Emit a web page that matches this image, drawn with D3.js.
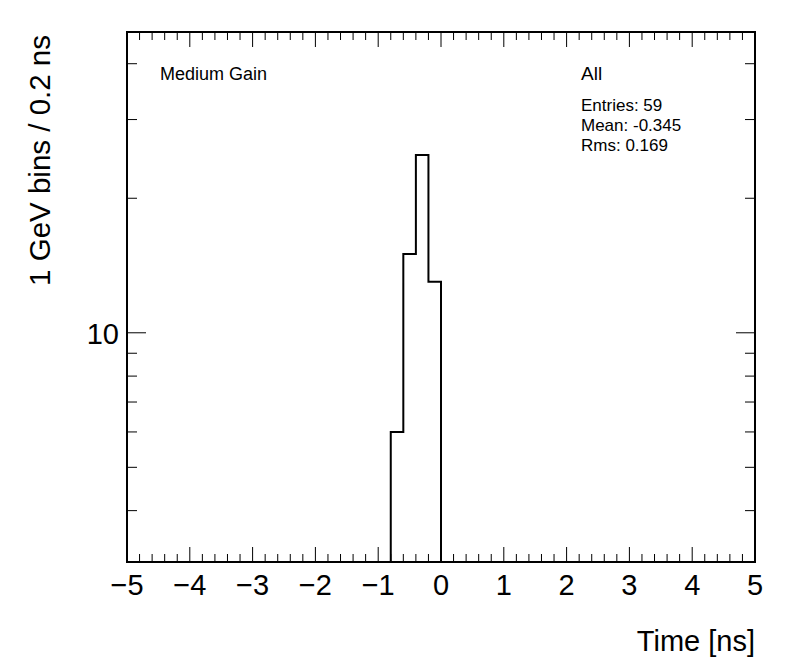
<!DOCTYPE html>
<html>
<head>
<meta charset="utf-8">
<script src="https://cdn.jsdelivr.net/npm/d3@7"></script>
<style>
  body { margin: 0; background: #fff; }
  svg { font-family: "Liberation Sans", Arial, Helvetica, sans-serif; }
</style>
</head>
<body>
<svg width="796" height="672"></svg>
<script>
// histogram bins (lower edge, ns) and counts
var binLow = [-0.8, -0.6, -0.4, -0.2]
var counts = [6, 15, 25, 13]
var binWidth = 0.2

// axis ranges and tick labels
var xDomain = [-5, 5]
var yDomain = [3.07, 47.1]
var xMajor = [-5, -4, -3, -2, -1, 0, 1, 2, 3, 4, 5]
var yLabels = [10]

var statLines = ["Entries: 59", "Mean: -0.345", "Rms: 0.169"]

// frame edges ("top" is taken by window.top, so other names)
var svg = d3.select("svg"),
    padL = 127, padR = 755, padT = 32, padB = 562

var x = d3.scaleLinear().domain(xDomain).range([padL, padR])
var y = d3.scaleLog().domain(yDomain).range([padB, padT])

var fmtNum = function(v) { return v < 0 ? "\u2212" + Math.abs(v) : "" + v }

// ticks on x (bottom and top), pointing inward
var xMinor = d3.range(-50, 51, 2).map(function(d) { return d / 10 })
var tickG = svg.append("g").attr("stroke", "#000").attr("stroke-width", 1)
xMinor.forEach(function(v) {
  var isMajor = Math.abs(v - Math.round(v)) < 1e-9
  var len = isMajor ? 15 : 8
  tickG.append("line").attr("x1", x(v)).attr("x2", x(v)).attr("y1", padB).attr("y2", padB - len)
  tickG.append("line").attr("x1", x(v)).attr("x2", x(v)).attr("y1", padT).attr("y2", padT + len)
})

// ticks on y (left and right), log scale
y.ticks().filter(function(v) { return v >= yDomain[0] && v <= yDomain[1] }).forEach(function(v) {
  var isMajor = Math.abs(Math.log10(v) - Math.round(Math.log10(v))) < 1e-9
  var len = isMajor ? 19 : 10
  tickG.append("line").attr("y1", y(v)).attr("y2", y(v)).attr("x1", padL).attr("x2", padL + len)
  tickG.append("line").attr("y1", y(v)).attr("y2", y(v)).attr("x1", padR).attr("x2", padR - len)
})

// tick labels
svg.append("g").selectAll("text")
  .data(xMajor)
  .enter().append("text")
    .attr("x", function(d) { return x(d) })
    .attr("y", 595)
    .attr("text-anchor", "middle")
    .attr("font-size", 29)
    .text(fmtNum)

svg.append("g").selectAll("text")
  .data(yLabels)
  .enter().append("text")
    .attr("x", 119)
    .attr("y", function(d) { return y(d) + 11 })
    .attr("text-anchor", "end")
    .attr("font-size", 29)
    .text(function(d) { return d })

// histogram as step outline
var path = d3.path()
path.moveTo(x(binLow[0]), padB)
binLow.forEach(function(lo, i) {
  path.lineTo(x(lo), y(counts[i]))
  path.lineTo(x(lo + binWidth), y(counts[i]))
})
path.lineTo(x(binLow[binLow.length - 1] + binWidth), padB)
svg.append("path")
  .attr("d", path.toString())
  .attr("fill", "none")
  .attr("stroke", "#000")
  .attr("stroke-width", 2)

// frame
svg.append("rect")
  .attr("x", padL).attr("y", padT)
  .attr("width", padR - padL).attr("height", padB - padT)
  .attr("fill", "none").attr("stroke", "#000").attr("stroke-width", 2)

// axis titles
svg.append("text")
  .attr("x", padR).attr("y", 651)
  .attr("text-anchor", "end")
  .attr("font-size", 29)
  .text("Time [ns]")

svg.append("text")
  .attr("transform", "translate(50,35) rotate(-90)")
  .attr("text-anchor", "end")
  .attr("font-size", 29.5)
  .text("1 GeV bins / 0.2 ns")

// labels in the pad
svg.append("text").attr("x", 160).attr("y", 80).attr("font-size", 18).text("Medium Gain")
svg.append("text").attr("x", 581).attr("y", 80).attr("font-size", 19).text("All")

svg.append("g").selectAll("text")
  .data(statLines)
  .enter().append("text")
    .attr("x", 581)
    .attr("y", function(d, i) { return 111 + i * 20 })
    .attr("font-size", 17)
    .text(function(d) { return d })
</script>
</body>
</html>
